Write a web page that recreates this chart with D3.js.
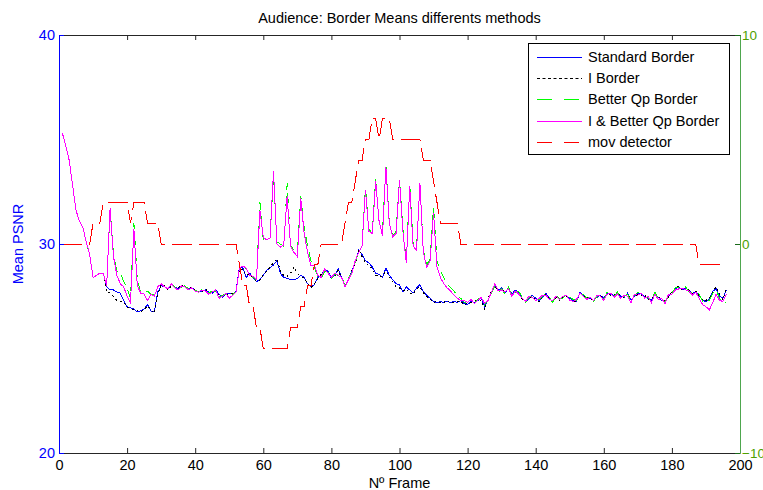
<!DOCTYPE html>
<html>
<head>
<meta charset="utf-8">
<script src="https://cdn.jsdelivr.net/npm/d3@7/dist/d3.min.js"></script>
<style>
  html, body { margin: 0; padding: 0; background: #fff; }
  svg { display: block; font-family: "Liberation Sans", Arial, sans-serif; }
</style>
</head>
<body>
<svg id="chart" width="763" height="490"></svg>
<script>
// Mean PSNR per frame (frames 1..196) for each border method
const standardBorder = [
  35.3, 34.7, 34.0, 32.8, 31.6, 31.1, 30.8, 30.1, 29.5, 28.4,
  28.5, 28.6, 28.6, 27.95, 27.8, 27.8, 27.7, 27.65, 27.3, 27.0,
  26.95, 26.9, 26.75, 26.8, 26.9, 27.1, 26.8, 26.75, 27.7, 28.0,
  27.95, 27.85, 28.05, 27.95, 27.85, 28.0, 27.95, 27.85, 27.9, 27.8,
  27.7, 27.75, 27.8, 27.7, 27.65, 27.8, 27.6, 27.45, 27.65, 27.65,
  27.6, 27.75, 28.9, 28.85, 28.4, 28.6, 28.4, 28.2, 28.3, 28.5,
  28.75, 28.85, 29.0, 29.2, 28.6, 28.4, 28.35, 28.3, 28.3, 28.35,
  28.5, 28.4, 28.1, 27.95, 28.05, 28.4, 28.5, 28.75, 28.7, 28.35,
  28.5, 28.8, 28.4, 27.95, 28.3, 28.7, 29.1, 29.7, 29.5, 29.2,
  29.1, 28.9, 28.6, 28.55, 28.4, 28.85, 28.5, 28.3, 28.1, 28.05,
  27.7, 27.95, 27.8, 27.65, 27.9, 28.05, 27.7, 27.55, 27.4, 27.25,
  27.2, 27.25, 27.2, 27.25, 27.2, 27.25, 27.2, 27.3, 27.15, 27.1,
  27.25, 27.2, 27.3, 27.4, 27.0, 27.3, 27.7, 28.05, 27.8, 27.9,
  27.65, 27.9, 27.6, 27.8, 27.7, 27.4, 27.25, 27.35, 27.55, 27.4,
  27.3, 27.45, 27.65, 27.4, 27.25, 27.5, 27.35, 27.45, 27.55, 27.4,
  27.3, 27.25, 27.7, 27.55, 27.45, 27.4, 27.3, 27.45, 27.55, 27.4,
  27.65, 27.6, 27.55, 27.65, 27.5, 27.45, 27.65, 27.3, 27.5, 27.65,
  27.6, 27.5, 27.4, 27.3, 27.65, 27.45, 27.3, 27.25, 27.5, 27.7,
  27.85, 27.95, 27.8, 27.9, 27.75, 27.65, 27.7, 27.55, 27.3, 27.25,
  27.35, 27.75, 27.85, 27.5, 27.4, 27.8
];
const iBorder = [
  35.3, 34.7, 34.0, 32.8, 31.6, 31.1, 30.8, 30.1, 29.5, 28.4,
  28.5, 28.6, 28.6, 27.7, 27.65, 27.5, 27.3, 27.25, 27.2, 27.0,
  26.9, 26.85, 26.8, 26.75, 26.85, 27.05, 26.85, 26.7, 27.6, 28.05,
  28.0, 27.8, 28.0, 27.9, 27.9, 28.05, 27.9, 27.8, 27.95, 27.75,
  27.75, 27.7, 27.85, 27.65, 27.7, 27.75, 27.55, 27.5, 27.6, 27.6,
  27.65, 27.7, 28.8, 28.8, 28.5, 28.55, 28.35, 28.25, 28.25, 28.55,
  28.7, 28.9, 29.1, 29.3, 28.7, 28.5, 28.45, 28.6, 28.9, 28.6,
  28.45, 28.35, 28.15, 27.9, 28.1, 28.35, 28.55, 28.7, 28.65, 28.4,
  28.45, 28.75, 28.35, 28.0, 28.25, 28.75, 29.05, 29.75, 29.4, 29.1,
  28.95, 28.85, 28.5, 28.45, 28.45, 28.7, 28.4, 28.2, 27.95, 27.9,
  27.75, 27.85, 27.65, 27.6, 27.85, 27.95, 27.65, 27.5, 27.35, 27.2,
  27.25, 27.2, 27.2, 27.3, 27.15, 27.2, 27.25, 27.25, 27.1, 27.15,
  27.2, 27.25, 27.35, 27.3, 26.85, 27.4, 27.75, 28.0, 27.75, 27.85,
  27.7, 27.85, 27.55, 27.75, 27.65, 27.35, 27.3, 27.4, 27.5, 27.35,
  27.25, 27.5, 27.6, 27.35, 27.3, 27.45, 27.3, 27.5, 27.5, 27.35,
  27.2, 27.3, 27.65, 27.5, 27.5, 27.35, 27.35, 27.5, 27.5, 27.45,
  27.6, 27.55, 27.6, 27.6, 27.55, 27.4, 27.6, 27.35, 27.45, 27.6,
  27.55, 27.55, 27.35, 27.35, 27.6, 27.5, 27.35, 27.3, 27.45, 27.75,
  27.8, 28.0, 27.75, 27.85, 27.8, 27.6, 27.75, 27.5, 27.35, 27.3,
  27.4, 27.7, 27.95, 27.6, 27.35, 27.9
];
const betterQpBorder = [
  35.3, 34.7, 34.0, 32.8, 31.6, 31.1, 30.8, 30.1, 29.5, 28.4,
  28.5, 28.6, 28.6, 28.0, 31.7, 29.5, 28.7, 28.65, 28.2, 27.9,
  27.4, 31.0, 28.3, 27.65, 27.7, 27.75, 27.6, 27.55, 27.95, 28.1,
  27.95, 27.9, 28.05, 27.95, 27.8, 27.95, 28.0, 27.85, 27.85, 27.8,
  27.7, 27.85, 27.7, 27.65, 27.75, 27.75, 27.45, 27.55, 27.6, 27.45,
  27.6, 27.7, 28.85, 28.95, 28.8, 28.55, 28.4, 28.3, 32.0, 30.2,
  30.35, 30.4, 33.3, 30.1, 30.0, 29.9, 32.9, 29.95, 29.7, 29.6,
  32.3, 30.8, 29.9, 29.2, 28.9, 28.45, 28.35, 28.7, 28.65, 28.35,
  28.55, 28.5, 28.45, 28.0, 28.35, 28.65, 29.15, 29.6, 29.9, 32.7,
  30.7, 30.55, 33.1, 31.0, 30.5, 33.8, 31.0, 30.4, 30.6, 33.1,
  30.7, 29.2, 32.9, 30.0, 29.8, 32.9, 29.7, 29.0, 29.3, 31.8,
  29.2, 28.7, 28.4, 28.1, 27.9, 27.75, 27.5, 27.4, 27.2, 27.25,
  27.3, 27.15, 27.35, 27.45, 27.1, 27.35, 27.65, 27.95, 27.7, 27.85,
  27.6, 27.95, 27.55, 27.7, 27.75, 27.45, 27.2, 27.45, 27.5, 27.35,
  27.35, 27.5, 27.6, 27.45, 27.2, 27.55, 27.4, 27.4, 27.6, 27.45,
  27.35, 27.3, 27.6, 27.6, 27.4, 27.45, 27.25, 27.5, 27.6, 27.35,
  27.7, 27.55, 27.5, 27.7, 27.45, 27.5, 27.6, 27.25, 27.55, 27.7,
  27.55, 27.45, 27.45, 27.25, 27.7, 27.4, 27.35, 27.2, 27.55, 27.65,
  27.9, 27.9, 27.85, 27.95, 27.7, 27.7, 27.65, 27.6, 27.25, 27.2,
  27.3, 27.65, 27.8, 27.4, 27.1, 27.25
];
const iBetterQpBorder = [
  35.3, 34.7, 34.0, 32.8, 31.6, 31.1, 30.8, 30.1, 29.5, 28.4,
  28.5, 28.6, 28.6, 28.0, 31.7, 29.4, 28.5, 28.1, 27.95, 27.5,
  27.2, 30.7, 28.0, 27.65, 27.6, 27.3, 27.6, 27.5, 27.95, 28.1,
  27.95, 27.85, 28.1, 27.9, 27.8, 28.0, 27.95, 27.8, 27.9, 27.75,
  27.7, 27.8, 27.75, 27.6, 27.7, 27.8, 27.4, 27.5, 27.65, 27.4,
  27.55, 27.7, 28.85, 28.95, 28.85, 28.5, 28.45, 28.3, 31.6, 30.3,
  30.2, 30.3, 33.5, 30.0, 29.85, 29.95, 32.3, 29.9, 29.6, 29.4,
  32.2, 30.5, 29.6, 28.95, 29.0, 28.5, 28.4, 28.8, 28.6, 28.4,
  28.6, 28.5, 28.4, 27.95, 28.3, 28.6, 29.2, 29.6, 29.9, 32.6,
  30.6, 30.5, 33.0, 31.1, 30.4, 33.7, 31.0, 30.35, 30.5, 33.05,
  30.6, 29.1, 32.75, 29.9, 29.7, 32.9, 29.6, 28.9, 29.2, 31.5,
  28.9, 28.4, 28.1, 27.9, 27.75, 27.55, 27.4, 27.3, 27.3, 27.2,
  27.35, 27.15, 27.3, 27.45, 27.15, 27.3, 27.7, 28.1, 27.75, 27.8,
  27.7, 27.85, 27.5, 27.75, 27.6, 27.4, 27.25, 27.5, 27.45, 27.3,
  27.4, 27.55, 27.55, 27.35, 27.3, 27.5, 27.35, 27.5, 27.55, 27.3,
  27.25, 27.35, 27.65, 27.5, 27.35, 27.45, 27.3, 27.55, 27.5, 27.3,
  27.6, 27.65, 27.45, 27.6, 27.4, 27.55, 27.5, 27.2, 27.6, 27.55,
  27.65, 27.4, 27.5, 27.2, 27.6, 27.35, 27.4, 27.15, 27.6, 27.6,
  27.8, 27.85, 27.9, 27.8, 27.75, 27.55, 27.7, 27.4, 27.1, 27.0,
  26.85, 27.2, 27.6, 27.3, 27.25, 27.6
];
// Movement detector output per frame (right axis)
const movDetector = [
  0, 0, 0, 0, 0, 0, 0, 0, 0, 1,
  1, 1, 2, 2, 2, 2, 2, 2, 2, 2,
  1, 2, 2, 2, 2, 1, 1, 1, 1, 0,
  0, 0, 0, 0, 0, 0, 0, 0, 0, 0,
  0, 0, 0, 0, 0, 0, 0, 0, 0, 0,
  0, 0, -1, -2, -2, -3, -3, -4, -4, -5,
  -5, -5, -5, -5, -5, -5, -5, -4, -4, -4,
  -3, -3, -2, -2, -1, -1, 0, 0, 0, 0,
  0, 0, 0, 1, 2, 2, 3, 4, 4, 5,
  5, 6, 6, 5, 6, 6, 6, 5, 5, 5,
  5, 5, 5, 5, 5, 5, 4, 4, 4, 3,
  2, 1, 1, 1, 1, 1, 1, 0, 0, 0,
  0, 0, 0, 0, 0, 0, 0, 0, 0, 0,
  0, 0, 0, 0, 0, 0, 0, 0, 0, 0,
  0, 0, 0, 0, 0, 0, 0, 0, 0, 0,
  0, 0, 0, 0, 0, 0, 0, 0, 0, 0,
  0, 0, 0, 0, 0, 0, 0, 0, 0, 0,
  0, 0, 0, 0, 0, 0, 0, 0, 0, 0,
  0, 0, 0, 0, 0, 0, 0, -1, -1, -1,
  -1, -1, -1, -1, -1, -1
];

const xTicks = [0, 20, 40, 60, 80, 100, 120, 140, 160, 180, 200];
const leftTicks = [20, 30, 40];
const rightTicks = [-10, 0, 10];

const seriesNames = ["Standard Border", "I Border", "Better Qp Border", "I & Better Qp Border", "mov detector"];

const svg = d3.select("#chart");
const plot = { left: 59, right: 740, top: 35, bottom: 453 };

const x = d3.scaleLinear().domain([0, 200]).range([plot.left, plot.right]);
const yL = d3.scaleLinear().domain([20, 40]).range([plot.bottom, plot.top]);
const yR = d3.scaleLinear().domain([-10, 10]).range([plot.bottom, plot.top]);

const BLUE = "#0000ff", GREEN_AX = "#4ea64e", GREEN_TXT = "#4f9f00";
const fontSize = 14.5;

const lines = [
  { name: seriesNames[0], data: standardBorder, color: BLUE, dash: null, scale: yL },
  { name: seriesNames[1], data: iBorder, color: "#000000", dash: "2,3", scale: yL },
  { name: seriesNames[2], data: betterQpBorder, color: "#00ff00", dash: "10,6", scale: yL },
  { name: seriesNames[3], data: iBetterQpBorder, color: "#ff00ff", dash: null, scale: yL },
  { name: seriesNames[4], data: movDetector, color: "#ff0000", dash: "20,7", scale: yR }
];

// data lines, aliased like a classic plotting window
const gLines = svg.append("g").attr("shape-rendering", "crispEdges");
lines.forEach(s => {
  const gen = d3.line().x((d, i) => x(i + 1)).y(d => s.scale(d));
  gLines.append("path")
    .attr("d", gen(s.data))
    .attr("fill", "none")
    .attr("stroke", s.color)
    .attr("stroke-width", 1)
    .attr("stroke-dasharray", s.dash);
});

// axes
const gB = svg.append("g").attr("transform", `translate(0,${plot.bottom})`)
  .call(d3.axisBottom(x).tickValues(xTicks).tickSizeInner(-5).tickSizeOuter(0).tickPadding(7));
gB.select(".domain").attr("stroke", "#262626");
gB.selectAll(".tick line").attr("stroke", "#262626");
gB.selectAll("text").attr("font-size", fontSize).attr("fill", "#000").attr("font-family", null);

const gT = svg.append("g").attr("transform", `translate(0,${plot.top})`)
  .call(d3.axisTop(x).tickValues(xTicks).tickSizeInner(-5).tickSizeOuter(0).tickFormat(""));
gT.select(".domain").attr("stroke", "#262626");
gT.selectAll(".tick line").attr("stroke", "#262626");

const gL = svg.append("g").attr("transform", `translate(${plot.left},0)`)
  .call(d3.axisLeft(yL).tickValues(leftTicks).tickSizeInner(-5).tickSizeOuter(0).tickPadding(4));
gL.select(".domain").attr("stroke", BLUE);
gL.selectAll(".tick line").attr("stroke", BLUE);
gL.selectAll("text").attr("font-size", fontSize).attr("fill", BLUE).attr("font-family", null);

const gR = svg.append("g").attr("transform", `translate(${plot.right},0)`)
  .call(d3.axisRight(yR).tickValues(rightTicks).tickSizeInner(-5).tickSizeOuter(0).tickPadding(2));
gR.select(".domain").attr("stroke", GREEN_AX);
gR.selectAll(".tick line").attr("stroke", "#1a6b1a");
gR.selectAll("text").attr("font-size", 13.5).attr("fill", GREEN_TXT).attr("font-family", null);

// titles
svg.append("text").attr("x", (plot.left + plot.right) / 2).attr("y", 18)
  .attr("text-anchor", "middle").attr("dominant-baseline", "central")
  .attr("font-size", fontSize).attr("fill", "#000")
  .text("Audience: Border Means differents methods");
svg.append("text").attr("x", (plot.left + plot.right) / 2).attr("y", 483)
  .attr("text-anchor", "middle").attr("dominant-baseline", "central")
  .attr("font-size", fontSize).attr("fill", "#000")
  .text("Nº Frame");
svg.append("text").attr("transform", `translate(18,${(plot.top + plot.bottom) / 2}) rotate(-90)`)
  .attr("text-anchor", "middle").attr("dominant-baseline", "central")
  .attr("font-size", fontSize).attr("fill", BLUE)
  .text("Mean PSNR");

// legend
const leg = svg.append("g");
leg.append("rect").attr("x", 528.5).attr("y", 43.5).attr("width", 201).attr("height", 111)
  .attr("fill", "#fff").attr("stroke", "#000").attr("stroke-width", 1);
const legY = [57, 78, 99, 121, 142];
const legendDash = [null, "3,2.5", "15,12", null, "15,12"];
lines.forEach((s, i) => {
  leg.append("line").attr("x1", 537).attr("x2", 582).attr("y1", legY[i] + 0.5).attr("y2", legY[i] + 0.5)
    .attr("stroke", s.color).attr("stroke-width", 1).attr("stroke-dasharray", legendDash[i]);
  leg.append("text").attr("x", 588).attr("y", legY[i]).attr("dominant-baseline", "central")
    .attr("font-size", fontSize).attr("fill", "#000").text(s.name);
});
</script>
</body>
</html>
